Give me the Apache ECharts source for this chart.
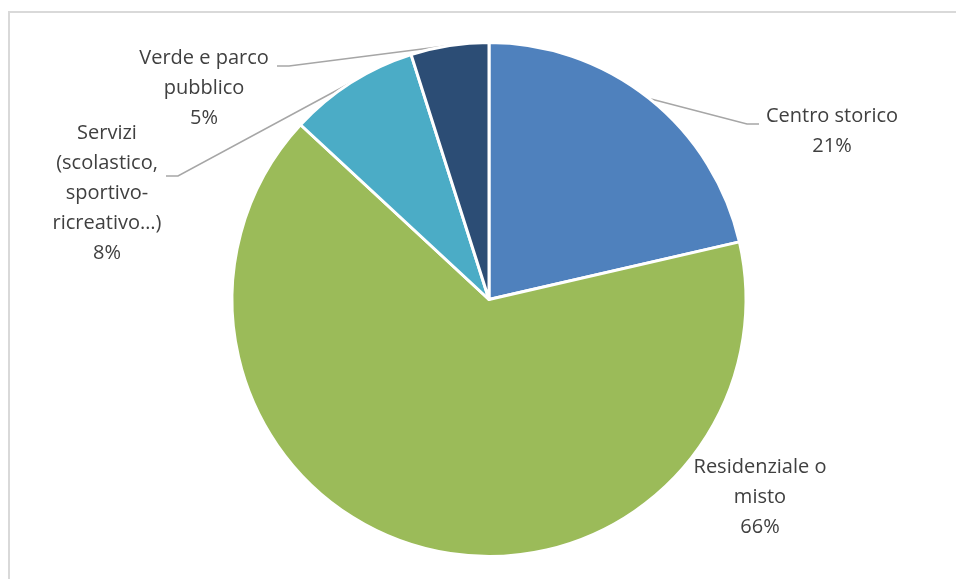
<!DOCTYPE html>
<html>
<head>
<meta charset="utf-8">
<script src="https://cdn.jsdelivr.net/npm/echarts@6/dist/echarts.min.js"></script>
<style>
  html, body { margin: 0; padding: 0; background: #fff; }
  #chart { width: 956px; height: 579px; }
</style>
</head>
<body>
<div id="chart"></div>
<script>
// Data
var categories = ['Centro storico', 'Residenziale o misto', 'Servizi (scolastico, sportivo-ricreativo…)', 'Verde e parco pubblico'];
var wrappedNames = ['Centro storico', 'Residenziale o\nmisto', 'Servizi\n(scolastico,\nsportivo-\nricreativo…)', 'Verde e parco\npubblico'];
var values = [21.4, 65.5, 8.2, 4.9];
var colors = ['#4F81BD', '#9BBB59', '#4BACC6', '#2C4D75'];

// Label placement (layout only)
var labelCenters = [[832, 131], [760, 497], [107, 193], [204, 88]];
var labelBends = [[747, 124], null, [178, 176], [289, 66]];
var labelEnds = [[759, 124], null, [166, 176], [277, 66]];

var chart = echarts.init(document.getElementById('chart'), null, { renderer: 'canvas' });

var data = categories.map(function (c, i) {
  return {
    name: c,
    value: values[i],
    itemStyle: { color: colors[i] },
    labelLine: { show: labelBends[i] !== null }
  };
});

chart.setOption({
  animation: false,
  backgroundColor: '#ffffff',
  graphic: [{
    type: 'rect',
    shape: { x: 9, y: 12, width: 1200, height: 1200 },
    style: { fill: 'none', stroke: '#d9d9d9', lineWidth: 2 },
    silent: true
  }],
  series: [{
    type: 'pie',
    center: [489, 299.5],
    radius: [0, 257],
    startAngle: 90,
    clockwise: true,
    percentPrecision: 0,
    itemStyle: { borderColor: '#ffffff', borderWidth: 3 },
    label: {
      show: true,
      position: 'outside',
      formatter: function (p) { return wrappedNames[p.dataIndex] + '\n' + p.percent + '%'; },
      fontFamily: 'Open Sans',
      fontSize: 20,
      lineHeight: 30,
      color: '#404040',
      align: 'center'
    },
    labelLine: {
      show: true,
      lineStyle: { color: '#a6a6a6', width: 1.5 }
    },
    labelLayout: function (params) {
      var i = params.dataIndex;
      var c = labelCenters[i];
      var res = {
        x: c[0],
        y: c[1],
        align: 'center',
        verticalAlign: 'middle'
      };
      if (labelBends[i] && params.labelLinePoints) {
        res.labelLinePoints = [params.labelLinePoints[0], labelBends[i], labelEnds[i]];
      }
      return res;
    },
    data: data
  }]
});
</script>
</body>
</html>
